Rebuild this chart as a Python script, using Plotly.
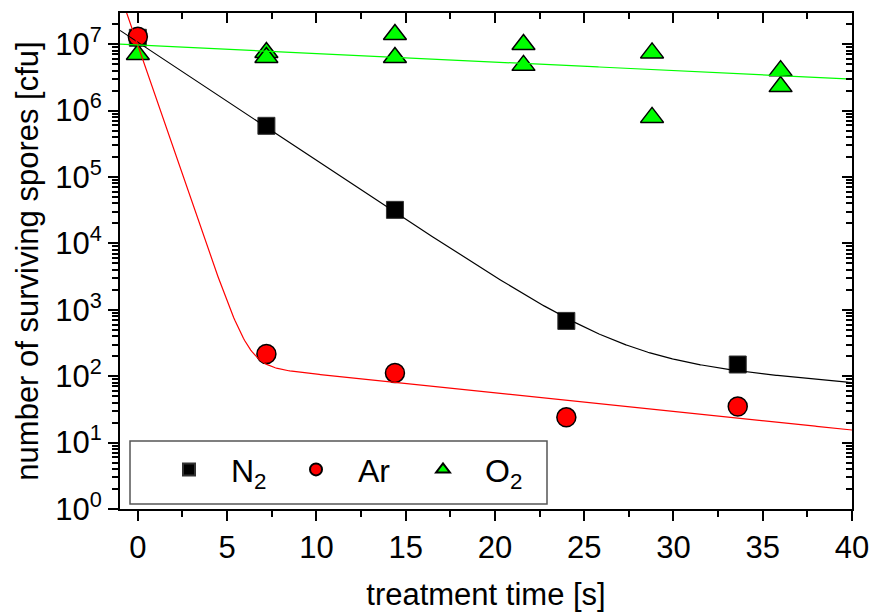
import numpy as np
import plotly.graph_objects as go

# ---- data ----
t_n2 = [0, 7.2, 14.4, 24.0, 33.6]
n2 = [1.25e7, 5.9e5, 3.2e4, 680, 150]

t_ar = [0, 7.2, 14.4, 24.0, 33.6]
ar = [1.3e7, 216, 112, 24, 35]

t_o2 = [0, 7.2, 7.2, 14.4, 14.4, 21.6, 21.6, 28.8, 28.8, 36.0, 36.0]
o2 = [7.0e6, 7.5e6, 6.3e6, 1.4e7, 6.3e6, 9.9e6, 4.8e6, 7.4e6, 7.9e5, 4.0e6, 2.3e6]

# fit parameters (biphasic log-linear survival curves): (log10 A, slope A, log10 B, slope B)
fit_n2 = (7.03, 0.178, 2.78, 0.022)
fit_ar = (6.98, 0.78, 2.31, 0.028)
fit_o2 = (6.987, 0.0128)

x_range = [-1, 40]
y_range_log = [0, 7.47]
y_tickvals = [10 ** k for k in range(0, 8)]
y_ticktext = ["10<sup>%d</sup>" % k for k in range(0, 8)]
y_minor = [m * 10 ** k for k in range(0, 8) for m in range(2, 10)]

tf = np.linspace(-1, 40, 600)
curve_n2 = 10 ** (fit_n2[0] - fit_n2[1] * tf) + 10 ** (fit_n2[2] - fit_n2[3] * tf)
curve_ar = 10 ** (fit_ar[0] - fit_ar[1] * tf) + 10 ** (fit_ar[2] - fit_ar[3] * tf)
curve_o2 = 10 ** (fit_o2[0] - fit_o2[1] * tf)

FONT = "Liberation Sans, Arial, sans-serif"
FS = 31

fig = go.Figure()
fig.add_trace(go.Scatter(x=t_n2, y=n2, mode="markers", name="N<sub>2</sub>",
                         marker=dict(symbol="square", size=17, color="black",
                                     line=dict(color="#333", width=1))))
fig.add_trace(go.Scatter(x=t_ar, y=ar, mode="markers", name="Ar",
                         marker=dict(symbol="circle", size=19, color="#ff0000",
                                     line=dict(color="black", width=1.5))))
fig.add_trace(go.Scatter(x=t_o2, y=o2, mode="markers", name="O<sub>2</sub>",
                         marker=dict(symbol="triangle-up", size=20, color="#00ff00",
                                     line=dict(color="black", width=1.5))))
# fit curves on overlay axes (drawn above markers)
fig.add_trace(go.Scatter(x=tf, y=curve_n2, mode="lines", showlegend=False,
                         line=dict(color="black", width=1.2), xaxis="x2", yaxis="y2"))
fig.add_trace(go.Scatter(x=tf, y=curve_ar, mode="lines", showlegend=False,
                         line=dict(color="#ff0000", width=1.2), xaxis="x2", yaxis="y2"))
fig.add_trace(go.Scatter(x=tf, y=curve_o2, mode="lines", showlegend=False,
                         line=dict(color="#00ff00", width=1.2), xaxis="x2", yaxis="y2"))

tickfont = dict(family=FONT, size=FS, color="black")

fig.update_layout(
    template="none",
    width=872, height=612,
    margin=dict(l=120, r=20, t=13, b=103, autoexpand=False),
    paper_bgcolor="white", plot_bgcolor="white",
    font=dict(family=FONT, color="black"),
    xaxis=dict(range=x_range, showgrid=False, zeroline=False, automargin=False,
               showline=True, linecolor="black", linewidth=2,
               tickmode="linear", tick0=0, dtick=5,
               ticks="outside", ticklen=10, tickwidth=2, tickcolor="black",
               minor=dict(ticks="outside", ticklen=6, tickwidth=2, tickcolor="black",
                          tick0=0, dtick=2.5, showgrid=False),
               tickfont=tickfont,
               title=dict(text="treatment time [s]", font=dict(family=FONT, size=FS),
                          standoff=26)),
    yaxis=dict(type="log", range=y_range_log, showgrid=False, zeroline=False,
               automargin=False,
               showline=True, linecolor="black", linewidth=2,
               tickmode="array", tickvals=y_tickvals, ticktext=y_ticktext,
               ticks="outside", ticklen=10, tickwidth=2, tickcolor="black",
               minor=dict(ticks="outside", ticklen=6, tickwidth=1.5, tickcolor="black",
                          tickmode="array", tickvals=y_minor, showgrid=False),
               tickfont=tickfont,
               title=dict(text="number of surviving spores [cfu]",
                          font=dict(family=FONT, size=FS), standoff=7)),
    xaxis2=dict(range=x_range, overlaying="x", side="top", showgrid=False, zeroline=False,
                automargin=False,
                showline=True, linecolor="black", linewidth=2,
                tickmode="linear", tick0=0, dtick=5, showticklabels=False,
                ticks="inside", ticklen=10, tickwidth=2, tickcolor="black",
                minor=dict(ticks="inside", ticklen=6, tickwidth=2, tickcolor="black",
                           tick0=0, dtick=2.5, showgrid=False)),
    yaxis2=dict(type="log", range=y_range_log, overlaying="y", side="right",
                showgrid=False, zeroline=False, automargin=False,
                showline=True, linecolor="black", linewidth=2,
                tickmode="array", tickvals=y_tickvals, showticklabels=False,
                ticks="inside", ticklen=10, tickwidth=2, tickcolor="black",
                minor=dict(ticks="inside", ticklen=6, tickwidth=1.5, tickcolor="black",
                           tickmode="array", tickvals=y_minor, showgrid=False)),
    legend=dict(orientation="h", x=(147 - 120) / 732, y=0.024,
                xanchor="left", yanchor="bottom",
                bgcolor="rgba(0,0,0,0)", borderwidth=0,
                font=dict(family=FONT, size=32, color="black"),
                entrywidth=38, itemwidth=74, itemsizing="constant"),
    shapes=[dict(type="rect", xref="paper", yref="paper",
                 x0=(130 - 120) / 732, x1=(547 - 120) / 732,
                 y0=(509 - 504) / 496, y1=(509 - 441) / 496,
                 line=dict(color="#555", width=1.5), fillcolor="white", layer="above")],
    showlegend=True,
)

fig.write_html("out.html", config={"displayModeBar": False},
               post_script="document.body.style.margin='0px';")
